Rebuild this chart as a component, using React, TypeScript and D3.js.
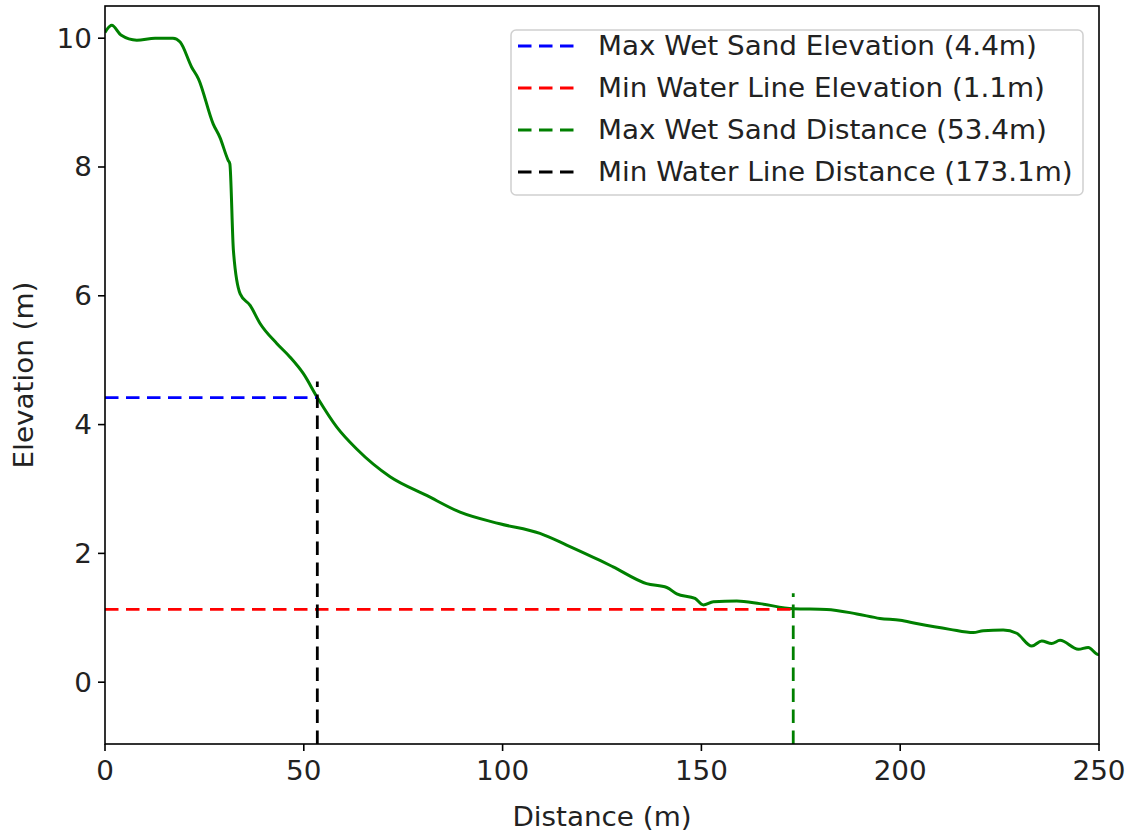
import React from 'react';
import * as d3 from 'd3';

// beach profile
const distance = [0, 1.7, 4, 8, 12.6, 17.1, 18.9, 21.8, 23.5, 27.2, 28.9, 31.0, 31.4, 32.3, 34.0, 36.5, 39.0, 43.2, 46.5, 49.9, 53.4, 58.3, 63.3, 71.7, 80.9, 89.3, 99.3, 109.4, 116.1, 124.5, 127.8, 136.2, 141.3, 143.8, 148.4, 150.5, 153.0, 158.9, 164.7, 173.1, 181.5, 189.1, 194.9, 200, 204.1, 212.5, 218.4, 220.9, 225.9, 229.3, 233.1, 235.6, 238.1, 240.2, 244.8, 247.3, 249.8, 250];
const elevation = [10.09, 10.2, 10.05, 9.97, 10.0, 10.0, 9.94, 9.55, 9.37, 8.67, 8.46, 8.1, 8.05, 6.7, 6.03, 5.85, 5.57, 5.26, 5.05, 4.79, 4.42, 3.96, 3.62, 3.19, 2.9, 2.64, 2.46, 2.31, 2.13, 1.89, 1.79, 1.53, 1.47, 1.37, 1.3, 1.2, 1.25, 1.26, 1.22, 1.14, 1.13, 1.06, 0.99, 0.96, 0.91, 0.82, 0.77, 0.8, 0.81, 0.76, 0.56, 0.64, 0.6, 0.65, 0.51, 0.54, 0.43, 0.44];

const maxWetSandElev = 4.42;
const minWaterElev = 1.13;
const maxWetSandDist = 53.4;
const minWaterDist = 173.1;

const legendLabels = [
  'Max Wet Sand Elevation (4.4m)',
  'Min Water Line Elevation (1.1m)',
  'Max Wet Sand Distance (53.4m)',
  'Min Water Line Distance (173.1m)',
];
const legendColors = ['blue', 'red', 'green', 'black'];

const xTicks = [0, 50, 100, 150, 200, 250];
const yTicks = [0, 2, 4, 6, 8, 10];

const W = 1131, H = 834;
const margin = { left: 105, right: 32, top: 6, bottom: 90 };
const FONT = 'DejaVu Sans, sans-serif';
const FS = 26;
const SX = 1.07; // the reference text is a bit wide
const DASH = '13.5,7.5';

function T({ x, y, rot, anchor, dy, children }: any) {
  return (
    <text transform={`translate(${x},${y})${rot ? ` rotate(${rot})` : ''} scale(${SX},1)`} textAnchor={anchor || 'start'} dy={dy} fontSize={FS} fill="#222">
      {children}
    </text>
  );
}

export default function App() {
  const x = d3.scaleLinear().domain([0, 250]).range([margin.left, W - margin.right]);
  const y = d3.scaleLinear().domain([-0.96, 10.5]).range([H - margin.bottom, margin.top]);
  const line = d3.line<number>().x((d, i) => x(distance[i])).y(d => y(d)).curve(d3.curveMonotoneX);
  const [y0, y1] = y.domain();

  return (
    <svg width={W} height={H} style={{ position: 'absolute', left: 0, top: 0, background: 'white' }} fontFamily={FONT}>
      <defs>
        <clipPath id="plot">
          <rect x={x(0)} y={y(y1)} width={x(250) - x(0)} height={y(y0) - y(y1)} />
        </clipPath>
      </defs>
      <g clipPath="url(#plot)">
        <path d={line(elevation) || ''} fill="none" stroke="green" strokeWidth={3} strokeLinejoin="round" />
        <line x1={x(0)} x2={x(maxWetSandDist)} y1={y(maxWetSandElev)} y2={y(maxWetSandElev)} stroke="blue" strokeWidth={2.8} strokeDasharray={DASH} />
        <line x1={x(0)} x2={x(minWaterDist)} y1={y(minWaterElev)} y2={y(minWaterElev)} stroke="red" strokeWidth={2.8} strokeDasharray={DASH} />
        <line x1={x(minWaterDist)} x2={x(minWaterDist)} y1={y(y0)} y2={y(minWaterElev + 0.25)} stroke="green" strokeWidth={2.8} strokeDasharray={DASH} />
        <line x1={x(maxWetSandDist)} x2={x(maxWetSandDist)} y1={y(y0)} y2={y(maxWetSandElev + 0.25)} stroke="black" strokeWidth={2.8} strokeDasharray={DASH} />
      </g>

      {/* frame */}
      <rect x={x(0)} y={y(y1)} width={x(250) - x(0)} height={y(y0) - y(y1)} fill="none" stroke="black" strokeWidth={1.6} />

      {/* x axis */}
      {xTicks.map(t => (
        <g key={'x' + t}>
          <line x1={x(t)} x2={x(t)} y1={y(y0)} y2={y(y0) + 7} stroke="black" strokeWidth={1.6} />
          <T x={x(t)} y={y(y0) + 36} anchor="middle">{t}</T>
        </g>
      ))}
      <T x={(x(0) + x(250)) / 2} y={826} anchor="middle">Distance (m)</T>

      {/* y axis */}
      {yTicks.map(t => (
        <g key={'y' + t}>
          <line x1={x(0)} x2={x(0) - 7} y1={y(t)} y2={y(t)} stroke="black" strokeWidth={1.6} />
          <T x={x(0) - 13} y={y(t)} dy="0.36em" anchor="end">{t}</T>
        </g>
      ))}
      <T x={33} y={(y(y1) + y(y0)) / 2} rot={-90} anchor="middle">Elevation (m)</T>

      {/* legend */}
      <rect x={511} y={30} width={572} height={165} rx={5} fill="white" fillOpacity={0.8} stroke="#d0d0d0" strokeWidth={1.5} />
      {legendLabels.map((lab, i) => (
        <g key={lab}>
          <line x1={518} x2={575} y1={46 + i * 42} y2={46 + i * 42} stroke={legendColors[i]} strokeWidth={2.8} strokeDasharray={DASH} />
          <T x={598} y={46 + i * 42} dy="0.36em">{lab}</T>
        </g>
      ))}
    </svg>
  );
}
